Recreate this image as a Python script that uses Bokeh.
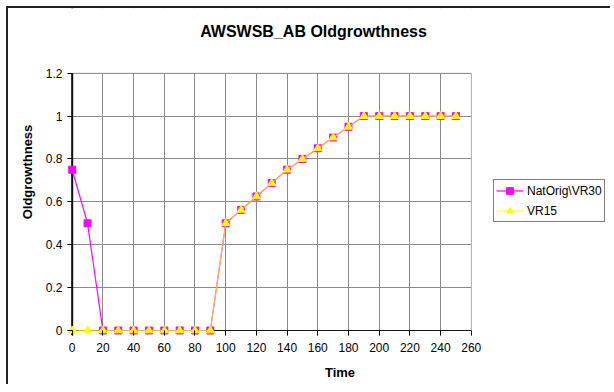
from bokeh.plotting import figure
from bokeh.models import (Range1d, FixedTicker, Legend, LegendItem, Label,
                          BoxAnnotation, Span)
from bokeh.embed import file_html
from bokeh.resources import INLINE

# ---- data ----
time = [0, 10, 20, 30, 40, 50, 60, 70, 80, 90, 100, 110, 120, 130, 140,
        150, 160, 170, 180, 190, 200, 210, 220, 230, 240, 250]
natorig_vr30 = [0.75, 0.5, 0, 0, 0, 0, 0, 0, 0, 0, 0.5, 0.5625, 0.625, 0.6875,
                0.75, 0.8, 0.85, 0.9, 0.95, 1, 1, 1, 1, 1, 1, 1]
vr15 = [0, 0, 0, 0, 0, 0, 0, 0, 0, 0, 0.5, 0.5625, 0.625, 0.6875,
        0.75, 0.8, 0.85, 0.9, 0.95, 1, 1, 1, 1, 1, 1, 1]
x_ticks = [0, 20, 40, 60, 80, 100, 120, 140, 160, 180, 200, 220, 240, 260]
y_ticks = [0, 0.2, 0.4, 0.6, 0.8, 1, 1.2]
y_tick_labels = ["0", "0.2", "0.4", "0.6", "0.8", "1", "1.2"]
series_names = ["NatOrig\\VR30", "VR15"]
title_text = "AWSWSB_AB Oldgrowthness"

FONT = "Liberation Sans"
x_lo, x_hi = x_ticks[0], x_ticks[-1]
y_lo, y_hi = y_ticks[0], y_ticks[-1]

# The frame is widened to the top/right (to hold the title and legend) and
# padded by the tick length left/bottom; the surplus is covered in white.
p = figure(width=604, height=378, output_backend="svg", toolbar_location=None,
           x_range=Range1d(-3.06, 352.0), y_range=Range1d(-0.0233, 1.502),
           min_border=0, min_border_left=59, min_border_bottom=51)
p.styles = {"margin-left": "6px", "margin-top": "6px",
            "border-left": "2px solid #222", "border-top": "2px solid #222"}
p.outline_line_color = None

# grids
p.xgrid.ticker = FixedTicker(ticks=x_ticks)
p.ygrid.ticker = FixedTicker(ticks=y_ticks)
for g in (p.xgrid, p.ygrid):
    g.grid_line_color = "#8a8a8a"
    g.grid_line_width = 1

# axis lines at zero
p.add_layout(Span(location=x_lo, dimension="height", line_color="black",
                  line_width=2, level="underlay"))
p.add_layout(Span(location=y_lo, dimension="width", line_color="black",
                  line_width=1, level="underlay"))
# white covers above and right of the plot area
p.add_layout(BoxAnnotation(bottom=y_hi, fill_color="white", fill_alpha=1,
                           line_alpha=0, level="underlay"))
p.add_layout(BoxAnnotation(left=x_hi, fill_color="white", fill_alpha=1,
                           line_alpha=0, level="underlay"))
# plot-area border (top and right edges)
p.add_layout(BoxAnnotation(left=x_lo, right=x_hi, bottom=y_lo, top=y_hi,
                           fill_alpha=0, line_color="#404040", line_width=1,
                           level="underlay"))

# axes (labels and ticks only; ticks point into the padding)
p.xaxis.ticker = FixedTicker(ticks=x_ticks)
p.yaxis.ticker = FixedTicker(ticks=y_ticks)
p.yaxis.major_label_overrides = {t: l for t, l in zip(y_ticks, y_tick_labels)}
for ax in (p.xaxis[0], p.yaxis[0]):
    ax.axis_line_color = None
    ax.major_tick_line_color = "black"
    ax.major_tick_in = 5
    ax.major_tick_out = 0
    ax.minor_tick_line_color = None
    ax.major_label_text_font = FONT
    ax.major_label_text_font_size = "12px"
    ax.major_label_text_color = "black"
    ax.axis_label_text_font = FONT
    ax.axis_label_text_font_size = "13px"
    ax.axis_label_text_font_style = "bold"
    ax.axis_label_text_color = "black"
p.xaxis.axis_label = "Time"
p.yaxis.axis_label = "Oldgrowthness"
p.xaxis.major_label_standoff = 7
p.yaxis.major_label_standoff = 5
p.xaxis.axis_label_standoff = 10
p.yaxis.axis_label_standoff = 8

# title
p.add_layout(Label(x=157.2, y=1.395, text=title_text, text_align="center",
                   text_baseline="middle", text_font=FONT,
                   text_font_size="16px", text_font_style="bold",
                   text_color="black"))

# series
l1 = p.line(time, natorig_vr30, line_color="#ff00ff", line_width=1.2)
s1 = p.scatter(time, natorig_vr30, marker="square", size=7,
               fill_color="#ff00ff", line_color="#ff00ff")
l2 = p.line(time, vr15, line_color="#ffff00", line_width=1.2, line_alpha=0.7)
s2 = p.scatter(time, vr15, marker="triangle", size=8,
               fill_color="#ffff00", line_color="#ffff00")

legend = Legend(items=[LegendItem(label=series_names[0], renderers=[l1, s1]),
                       LegendItem(label=series_names[1], renderers=[l2, s2])],
                location=(426, 113), orientation="vertical",
                border_line_color="black", border_line_width=1,
                background_fill_color="white", background_fill_alpha=1,
                label_text_font=FONT, label_text_font_size="12px",
                label_text_color="black",
                glyph_width=27, glyph_height=17, label_height=17,
                label_standoff=4, spacing=3, padding=2, margin=0)
p.add_layout(legend, "center")

open("out.html", "w").write(file_html(p, INLINE))
